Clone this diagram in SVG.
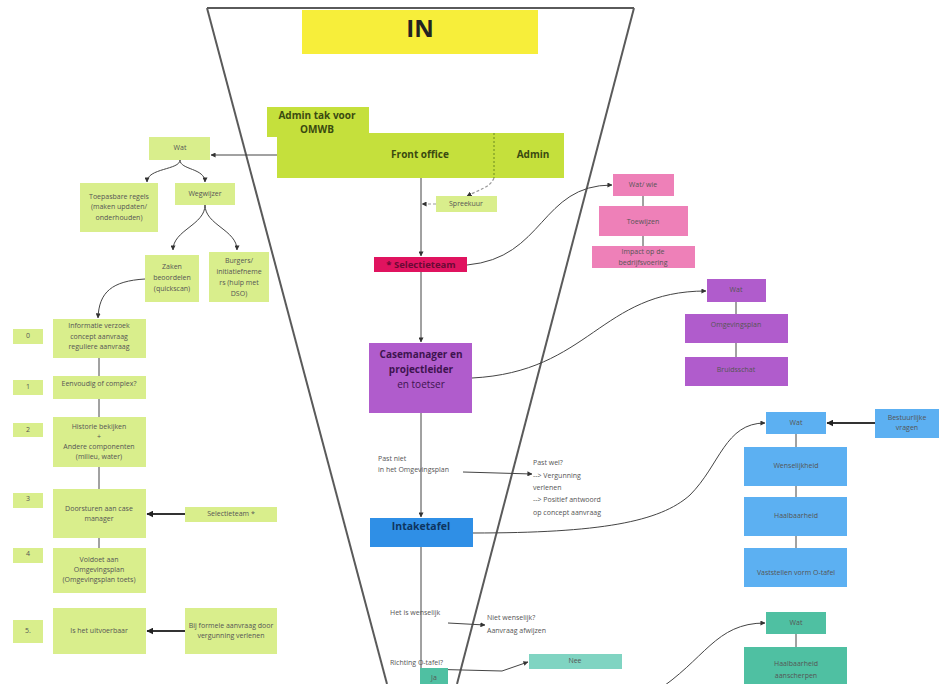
<svg xmlns="http://www.w3.org/2000/svg" width="940" height="684" viewBox="0 0 940 684">
<defs>
<marker id="ah" viewBox="0 0 6 6" refX="5.5" refY="3" markerWidth="5" markerHeight="5" orient="auto" markerUnits="userSpaceOnUse">
<path d="M0,0 L6,3 L0,6 z" fill="#333"/>
</marker>
<marker id="ahb" viewBox="0 0 6 6" refX="5.5" refY="3" markerWidth="7" markerHeight="7" orient="auto" markerUnits="userSpaceOnUse">
<path d="M0,0 L6,3 L0,6 z" fill="#222"/>
</marker>
<style>
text{font-family:"Open Sans","Liberation Sans",sans-serif;fill:#555;font-size:7px;text-anchor:middle;dominant-baseline:middle}
.b{font-weight:bold}
.lt{text-anchor:start}
.c{fill:none;stroke:#444;stroke-width:1}
.ct{fill:none;stroke:#333;stroke-width:1.8}
.d{fill:none;stroke:#999;stroke-width:1.2;stroke-dasharray:3,2}
.g1{fill:#c5e03c}
.g2{fill:#d9ee8c}
.pk{fill:#ee80b8}
.pu{fill:#b05ccc}
.bl{fill:#5cb0f2}
.tl{fill:#4fc0a2}
</style>
</defs>
<rect width="940" height="684" fill="#fff"/>

<g id="funnel" fill="none" stroke="#5a5a5a" stroke-width="2">
<path d="M207,8 L634,8"/>
<path d="M207,8 L387,684"/>
<path d="M634,8 L457,684"/>
</g>

<g id="connectors">
<!-- main column -->
<path class="c" d="M421,178 L421,256" marker-end="url(#ah)"/>
<path class="c" d="M421,272 L421,342" marker-end="url(#ah)"/>
<path class="c" d="M421,413 L421,517" marker-end="url(#ah)"/>
<path class="c" d="M421,547 L421,668"/>
<!-- front office to Wat -->
<path class="c" d="M277,155 L211,155" marker-end="url(#ah)"/>
<!-- Wat tree -->
<path class="c" d="M180,160 C180,170 147,168 147,182" marker-end="url(#ah)"/>
<path class="c" d="M180,160 C180,170 205,168 205,182" marker-end="url(#ah)"/>
<path class="c" d="M205,205 C205,225 173,230 173,250" marker-end="url(#ah)"/>
<path class="c" d="M205,205 C205,225 237,230 237,250" marker-end="url(#ah)"/>
<path class="c" d="M145,279 C112,281 99,292 98,318" marker-end="url(#ah)"/>
<!-- left column -->
<path class="c" d="M99,358 L99,376 M99,399 L99,417 M99,467 L99,489 M99,538 L99,548"/>
<path class="ct" d="M185,514 L147,514" marker-end="url(#ahb)"/>
<path class="ct" d="M185,631 L147,631" marker-end="url(#ahb)"/>
<!-- spreekuur -->
<path class="d" d="M494,178 C490,188 478,190 467,196" marker-end="url(#ah)"/>
<path class="d" d="M436,204 L422,204" marker-end="url(#ah)"/>
<!-- selectieteam to pink -->
<path class="c" d="M467,265 C545,258 540,185 612,185" marker-end="url(#ah)"/>
<path class="c" d="M643,196 L643,206 M643,236 L643,246"/>
<!-- casemanager to purple -->
<path class="c" d="M472,378 C590,372 600,291 706,291" marker-end="url(#ah)"/>
<path class="c" d="M736,302 L736,314 M736,343 L736,357"/>
<!-- past niet -->
<path class="c" d="M463,472 L532,474" marker-end="url(#ah)"/>
<!-- intaketafel to blue -->
<path class="c" d="M473,533 C600,533 660,522 690,495 C720,465 725,423 765,423" marker-end="url(#ah)"/>
<path class="ct" d="M875,423 L827,423" marker-end="url(#ahb)"/>
<path class="c" d="M796,434 L796,447 M796,486 L796,497 M796,536 L796,548 M796,634 L796,647"/>
<!-- wenselijk -->
<path class="c" d="M448,623 L485,625" marker-end="url(#ah)"/>
<!-- Ja to Nee -->
<path class="c" d="M423,669 L502,671 L528,662" marker-end="url(#ah)"/>
<!-- to teal -->
<path class="c" d="M655,692 C705,660 715,623 765,623" marker-end="url(#ah)"/>
</g>

<g id="in"><rect x="302" y="10" width="236" height="44" fill="#f7ee3a"/><text x="420" y="31" class="b" style="font-size:24px;fill:#222">IN</text></g>

<g id="frontoffice">
<rect x="267" y="107" width="102" height="30" class="g1"/>
<rect x="277" y="133" width="287" height="45" class="g1"/>
<line x1="494" y1="133" x2="494" y2="178" stroke="#6a8a20" stroke-width="1" stroke-dasharray="2,2"/>
<text x="317" y="116" class="b" style="font-size:10px;fill:#3a4a10">Admin tak voor</text>
<text x="317" y="130" class="b" style="font-size:10px;fill:#3a4a10">OMWB</text>
<text x="420" y="155" class="b" style="font-size:10px;fill:#3a4a10">Front office</text>
<text x="533" y="155" class="b" style="font-size:10px;fill:#3a4a10">Admin</text>
</g>

<g id="wat-left"><rect x="149" y="137" width="61" height="23" class="g2"/><text x="180" y="148">Wat</text></g>
<g id="toepasbare"><rect x="80" y="183" width="78" height="49" class="g2"/><text x="119" y="197">Toepasbare regels</text><text x="119" y="207">(maken updaten/</text><text x="119" y="218">onderhouden)</text></g>
<g id="wegwijzer"><rect x="175" y="183" width="60" height="22" class="g2"/><text x="205" y="194">Wegwijzer</text></g>
<g id="zaken"><rect x="145" y="255" width="54" height="47" class="g2"/><text x="172" y="267">Zaken</text><text x="172" y="278">beoordelen</text><text x="172" y="289">(quickscan)</text></g>
<g id="burgers"><rect x="209" y="252" width="60" height="50" class="g2"/><text x="239" y="261">Burgers/</text><text x="239" y="272">initiatiefneme</text><text x="239" y="283">rs (hulp met</text><text x="239" y="294">DSO)</text></g>

<g id="n0"><rect x="13" y="329" width="30" height="15" class="g2"/><text x="28" y="336">0</text></g>
<g id="informatie"><rect x="53" y="319" width="93" height="39" class="g2"/><text x="99" y="326">Informatie verzoek</text><text x="99" y="337">concept aanvraag</text><text x="99" y="347">reguliere aanvraag</text></g>
<g id="n1"><rect x="13" y="380" width="30" height="15" class="g2"/><text x="28" y="387">1</text></g>
<g id="eenvoudig"><rect x="53" y="376" width="93" height="23" class="g2"/><text x="99" y="384">Eenvoudig of complex?</text></g>
<g id="n2"><rect x="13" y="423" width="30" height="14" class="g2"/><text x="28" y="430">2</text></g>
<g id="historie"><rect x="53" y="417" width="93" height="50" class="g2"/><text x="99" y="427">Historie bekijken</text><text x="99" y="437">+</text><text x="99" y="447">Andere componenten</text><text x="99" y="457">(milieu, water)</text></g>
<g id="n3"><rect x="13" y="493" width="30" height="15" class="g2"/><text x="28" y="499">3</text></g>
<g id="doorsturen"><rect x="53" y="489" width="93" height="49" class="g2"/><text x="99" y="509">Doorsturen aan case</text><text x="99" y="519">manager</text></g>
<g id="selectieteam-left"><rect x="185" y="507" width="92" height="15" class="g2"/><text x="231" y="514">Selectieteam *</text></g>
<g id="n4"><rect x="13" y="548" width="30" height="15" class="g2"/><text x="28" y="554">4</text></g>
<g id="voldoet"><rect x="53" y="548" width="93" height="45" class="g2"/><text x="99" y="560">Voldoet aan</text><text x="99" y="570">Omgevingsplan</text><text x="99" y="580">(Omgevingsplan toets)</text></g>
<g id="n5"><rect x="13" y="620" width="30" height="23" class="g2"/><text x="28" y="631">5.</text></g>
<g id="uitvoerbaar"><rect x="53" y="608" width="93" height="46" class="g2"/><text x="99" y="631">Is het uitvoerbaar</text></g>
<g id="bijformele"><rect x="185" y="608" width="92" height="46" class="g2"/><text x="231" y="626">Bij formele aanvraag door</text><text x="231" y="636">vergunning verlenen</text></g>

<g id="spreekuur"><rect x="436" y="196" width="61" height="16" class="g2"/><text x="466" y="204">Spreekuur</text></g>
<g id="selectieteam"><rect x="374" y="257" width="93" height="15" fill="#e0135f"/><text x="421" y="265" class="b" style="font-size:9.5px;fill:#6a0a35">* Selectieteam</text></g>
<g id="casemanager"><rect x="369" y="343" width="103" height="70" class="pu"/><text x="421" y="355" class="b" style="font-size:10px;fill:#3e1450">Casemanager en</text><text x="421" y="370" class="b" style="font-size:10px;fill:#3e1450">projectleider</text><text x="421" y="385" style="font-size:10px;fill:#3e1450">en toetser</text></g>

<g id="pastniet"><text x="378" y="459" class="lt">Past niet</text><text x="378" y="470" class="lt">in het Omgevingsplan</text></g>
<g id="pastwel"><text x="533" y="463" class="lt">Past wel?</text><text x="533" y="476" class="lt">--&gt; Vergunning</text><text x="533" y="488" class="lt">verlenen</text><text x="533" y="500" class="lt">--&gt; Positief antwoord</text><text x="533" y="513" class="lt">op concept aanvraag</text></g>
<g id="intaketafel"><rect x="370" y="518" width="103" height="29" fill="#2f8fe6"/><text x="421" y="527" class="b" style="font-size:10.5px;fill:#0e3560">Intaketafel</text></g>
<g id="wenselijk"><text x="390" y="613" class="lt">Het is wenselijk</text></g>
<g id="nietwenselijk"><text x="487" y="618" class="lt">Niet wenselijk?</text><text x="487" y="631" class="lt">Aanvraag afwijzen</text></g>
<g id="richting"><text x="390" y="663" class="lt">Richting O-tafel?</text></g>
<g id="ja"><rect x="420" y="668" width="28" height="20" class="tl"/><text x="434" y="678">Ja</text></g>
<g id="nee"><rect x="529" y="654" width="93" height="15" fill="#80d4c2"/><text x="575" y="661">Nee</text></g>

<g id="watwie"><rect x="613" y="174" width="61" height="22" class="pk"/><text x="643" y="185">Wat/ wie</text></g>
<g id="toewijzen"><rect x="599" y="206" width="89" height="30" class="pk"/><text x="643" y="222">Toewijzen</text></g>
<g id="impact"><rect x="592" y="246" width="103" height="22" class="pk"/><text x="643" y="252">Impact op de</text><text x="643" y="263">bedrijfsvoering</text></g>

<g id="wat-purple"><rect x="707" y="279" width="59" height="23" class="pu"/><text x="736" y="290">Wat</text></g>
<g id="omgevingsplan"><rect x="685" y="314" width="103" height="29" class="pu"/><text x="736" y="325">Omgevingsplan</text></g>
<g id="bruidsschat"><rect x="685" y="357" width="103" height="29" class="pu"/><text x="736" y="370">Bruidsschat</text></g>

<g id="wat-blue"><rect x="766" y="412" width="60" height="22" class="bl"/><text x="796" y="423">Wat</text></g>
<g id="bestuurlijke"><rect x="875" y="409" width="64" height="29" class="bl"/><text x="907" y="418">Bestuurlijke</text><text x="907" y="428">vragen</text></g>
<g id="wenselijkheid"><rect x="744" y="447" width="103" height="39" class="bl"/><text x="796" y="466">Wenselijkheid</text></g>
<g id="haalbaarheid"><rect x="744" y="497" width="103" height="39" class="bl"/><text x="796" y="516">Haalbaarheid</text></g>
<g id="vaststellen"><rect x="744" y="548" width="103" height="39" class="bl"/><text x="796" y="573">Vaststellen vorm O-tafel</text></g>

<g id="wat-teal"><rect x="766" y="612" width="60" height="22" class="tl"/><text x="796" y="623">Wat</text></g>
<g id="aanscherpen"><rect x="744" y="647" width="103" height="45" class="tl"/><text x="796" y="664">Haalbaarheid</text><text x="796" y="676">aanscherpen</text></g>
</svg>
